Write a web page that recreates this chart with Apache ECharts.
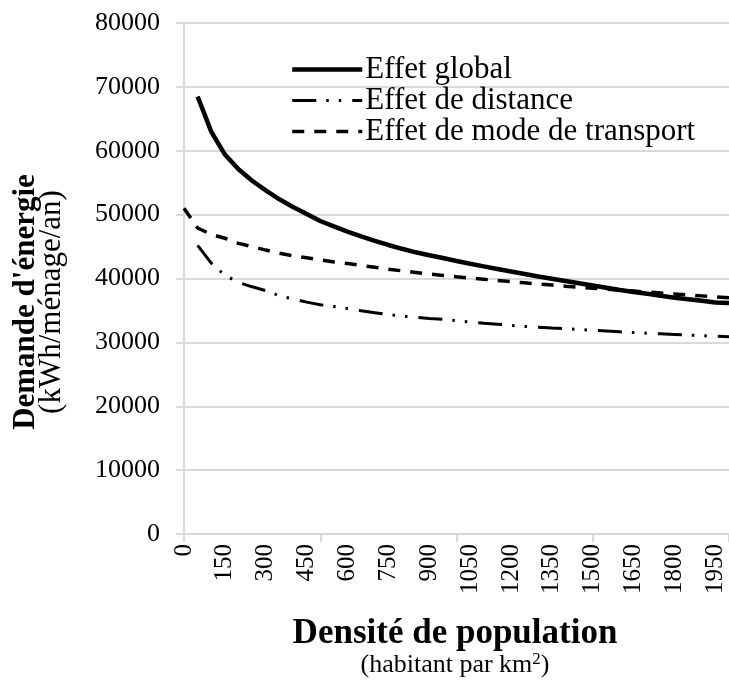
<!DOCTYPE html>
<html>
<head>
<meta charset="utf-8">
<script src="https://cdn.jsdelivr.net/npm/echarts@6/dist/echarts.min.js"></script>
<style>
  html, body { margin: 0; padding: 0; background: #fff; }
  #chart { width: 729px; height: 683px; }
</style>
</head>
<body>
<div id="chart"></div>
<script>
// densité (habitant par km2), un point tous les 50
var densites = [];
for (var d = 0; d <= 2000; d += 50) densites.push(String(d));

// demande d'énergie (kWh/ménage/an)
var effetGlobal = [null, 68500, 63000, 59400, 57100, 55300, 53800, 52400, 51200, 50100,
  49000, 48150, 47350, 46600, 45900, 45250, 44650, 44100, 43650, 43200,
  42750, 42300, 41900, 41500, 41100, 40700, 40300, 39950, 39600, 39250,
  38900, 38550, 38200, 37900, 37600, 37300, 37000, 36750, 36500, 36250, 36150];

var effetDistance = [null, 45200, 42400, 40500, 39400, 38700, 38100, 37300, 36800, 36300,
  35900, 35600, 35300, 34950, 34650, 34350, 34100, 33950, 33750, 33600,
  33400, 33200, 33000, 32850, 32650, 32500, 32380, 32250, 32130, 32020,
  31900, 31780, 31650, 31530, 31430, 31350, 31250, 31150, 31050, 30950, 30900];

var effetMode = [51000, 47900, 46900, 46300, 45500, 45000, 44450, 43950, 43550, 43250,
  42900, 42600, 42350, 42050, 41750, 41450, 41200, 40950, 40700, 40480,
  40270, 40070, 39880, 39690, 39500, 39320, 39140, 38970, 38800, 38640,
  38480, 38330, 38180, 38030, 37880, 37730, 37580, 37430, 37280, 37130, 37000];

var nomsSeries = ['Effet global', 'Effet de distance', 'Effet de mode de transport'];

var police = 'Liberation Serif, Times New Roman, serif';
var gris = '#d9d9d9';

// styles de trait des trois courbes
var traits = [
  { color: '#000', width: 4.5, type: 'solid' },
  { color: '#000', width: 3, type: [24, 10, 2.5, 10, 2.5, 11] },
  { color: '#000', width: 3.5, type: [12, 10] }
];

var myChart = echarts.init(document.getElementById('chart'));

var option = {
  animation: false,
  backgroundColor: '#fff',
  grid: {
    left: 184,
    right: -4,
    top: 23,
    bottom: 149,
    containLabel: false
  },
  legend: {
    data: nomsSeries.map(function(nom, i) {
      return { name: nom, lineStyle: traits[i] };
    }),
    orient: 'vertical',
    left: 285,
    top: 49,
    itemWidth: 70,
    itemHeight: 14,
    itemGap: 0,
    itemStyle: { opacity: 0 },
    textStyle: {
      fontFamily: police,
      fontSize: 31,
      color: '#000',
      lineHeight: 31,
      padding: [0, 0, 0, -2]
    }
  },
  xAxis: {
    type: 'category',
    boundaryGap: false,
    data: densites,
    axisLine: { lineStyle: { color: gris, width: 2 } },
    axisTick: { show: true, interval: 9, length: 8, lineStyle: { color: gris, width: 2 } },
    axisLabel: {
      interval: 2,
      rotate: 90,
      margin: 10,
      fontFamily: police,
      fontSize: 25,
      color: '#000'
    },
    splitLine: { show: false }
  },
  yAxis: {
    type: 'value',
    min: 0,
    max: 80000,
    interval: 10000,
    axisLine: { show: true, lineStyle: { color: gris, width: 2 } },
    axisTick: { show: true, length: 8, lineStyle: { color: gris, width: 2 } },
    axisLabel: {
      margin: 24,
      fontFamily: police,
      fontSize: 26,
      color: '#000',
      formatter: function(v) { return String(v); }
    },
    splitLine: { show: true, lineStyle: { color: gris, width: 2 } }
  },
  series: [{
      name: nomsSeries[0],
      type: 'line',
      symbol: 'none',
      data: effetGlobal,
      itemStyle: { color: '#000' },
      lineStyle: traits[0]
    },
    {
      name: nomsSeries[1],
      type: 'line',
      symbol: 'none',
      data: effetDistance,
      itemStyle: { color: '#000' },
      lineStyle: traits[1]
    },
    {
      name: nomsSeries[2],
      type: 'line',
      symbol: 'none',
      data: effetMode,
      itemStyle: { color: '#000' },
      lineStyle: traits[2]
    }
  ],
  graphic: [{
      type: 'text',
      x: 26,
      y: 302,
      rotation: Math.PI / 2,
      style: {
        text: "Demande d'énergie",
        font: 'bold 31px ' + police,
        fill: '#000',
        align: 'center', verticalAlign: 'middle',
        textAlign: 'center', textVerticalAlign: 'middle'
      }
    },
    {
      type: 'text',
      x: 52,
      y: 302,
      rotation: Math.PI / 2,
      style: {
        text: '(kWh/ménage/an)',
        font: '31px ' + police,
        fill: '#000',
        align: 'center', verticalAlign: 'middle',
        textAlign: 'center', textVerticalAlign: 'middle'
      }
    },
    {
      type: 'text',
      x: 455,
      y: 634,
      style: {
        text: 'Densité de population',
        font: 'bold 35px ' + police,
        fill: '#000',
        align: 'center', verticalAlign: 'middle',
        textAlign: 'center', textVerticalAlign: 'middle'
      }
    },
    {
      type: 'text',
      x: 455,
      y: 665,
      style: {
        text: '(habitant par km{sup|2})',
        font: '26px ' + police,
        fill: '#000',
        align: 'center', verticalAlign: 'middle',
        textAlign: 'center', textVerticalAlign: 'middle',
        rich: {
          sup: { fontSize: 17, fontFamily: police, verticalAlign: 'top', fill: '#000', padding: [0, 0, 10, 0] }
        }
      }
    }
  ]
};

myChart.setOption(option, true);
</script>
</body>
</html>
